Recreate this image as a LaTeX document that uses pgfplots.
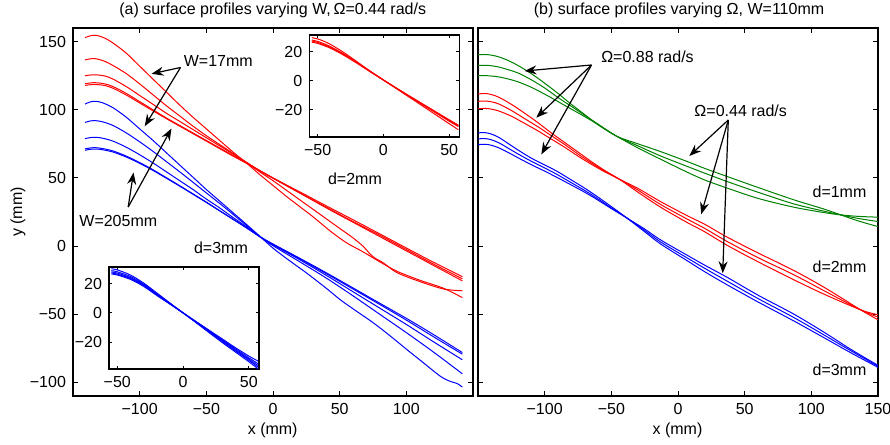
\documentclass[border=0pt]{standalone}
\usepackage{fontspec}
\setmainfont{Liberation Sans}
\usepackage{pgfplots}
\pgfplotsset{compat=1.18}
\usetikzlibrary{arrows.meta}
\definecolor{mgreen}{rgb}{0,0.5,0}
\newcommand{\fs}{\fontsize{8}{9.6}\selectfont}
\pgfplotsset{
  base/.style={scale only axis, axis line style={line width=0.9pt}, tick align=inside,
    tick style={black,line width=0.45pt}, tick label style={font=\fs},
    every axis plot/.append style={line width=0.5pt, no markers, smooth, tension=0.5}},
  mainax/.style={base, anchor=south west, width=200pt, height=184pt, xmin=-150, xmax=150, ymin=-110, ymax=160,
    major tick length=2.5pt, ytick={-100,-50,0,50,100,150}},
  insetax/.style={base, anchor=south west, width=75pt, height=51pt, xmin=-56.3, xmax=57.7, ymin=-38.5, ymax=31.5,
    major tick length=1.6pt, xtick={-50,0,50}, xticklabels={−50,0,50}, ytick={-20,0,20}, yticklabels={−20,0,20},
    axis background/.style={fill=white}, axis line style={line width=0.8pt}},
}
\begin{document}
\begin{tikzpicture}
\useasboundingbox (0,0) rectangle (445pt,222.5pt);
% ---------------- left main axis ----------------
\begin{axis}[mainax, at={(36.5pt,24.5pt)}, xtick={-100,-50,0,50,100}, xticklabels={−100,−50,0,50,100},
  yticklabels={−100,−50,0,50,100,150}]
\addplot[red] coordinates {(-141,153) (-136,154.5) (-132,154.5) (-126,152.5) (-120,149) (-110,141.5) (-100,132) (-90,122.5) (-80,113) (-70,103.5) (-60,94.5) (-50,86) (-40,77.5) (-30,69) (-20,61) (-10,52.5) (0,44.5) (10,36.5) (20,29) (30,21.5) (43,11) (55,2.5) (68,-4.5) (80,-11.5) (93,-18.5) (110,-25) (128,-31) (142,-37.8)};
\addplot[red] coordinates {(-141,136.6) (-136,137.5) (-132,137.3) (-126,135.5) (-120,132.5) (-110,126.5) (-100,119) (-90,111) (-80,103) (-70,95.5) (-60,88) (-50,81) (-40,74.5) (-30,68) (-20,61.5) (-10,54.5) (0,48) (10,41) (20,34) (30,27) (40,20) (50,13) (60,6) (68,-0.5) (72,-5) (76,-8.5) (83,-12.5) (93,-19.5) (110,-26) (128,-31.5) (142,-32.8)};
\addplot[red] coordinates {(-141,125) (-136,125.6) (-132,125.6) (-126,124.8) (-120,122.5) (-110,117) (-100,110.5) (-90,104) (-80,97.5) (-70,91.5) (-60,85.5) (-50,79.5) (-40,73.5) (-30,67.5) (-20,61.5) (-10,55.5) (0,50) (20,39) (40,28) (60,17.5) (80,7) (100,-3.5) (120,-14) (142,-25.5)};
\addplot[red] coordinates {(-141,119.1) (-136,119.8) (-132,119.8) (-126,119) (-120,117) (-110,112) (-100,106) (-90,100) (-80,94) (-70,88.5) (-60,83) (-50,77.5) (-40,72) (-30,66.5) (-20,61) (-10,55.2) (0,49.7) (20,39) (40,28.5) (60,18) (80,8) (100,-2.5) (120,-13) (142,-24)};
\addplot[red] coordinates {(-141,117.9) (-136,118.5) (-132,118.5) (-126,117.8) (-120,115.8) (-110,110.8) (-100,105) (-90,99.2) (-80,93.5) (-70,88) (-60,82.5) (-50,77) (-40,71.5) (-30,66) (-20,60.8) (-10,55.3) (0,50) (20,39.8) (40,29.5) (60,19.3) (80,9) (100,-1.4) (120,-11.7) (142,-22.4)};
\addplot[blue] coordinates {(-141,104.2) (-137,105.8) (-133,106.2) (-128,105.2) (-120,101.5) (-110,94.5) (-100,86) (-90,77.5) (-80,68.5) (-70,59.5) (-60,50.5) (-50,41.5) (-40,33) (-30,24.5) (-20,16) (-10,7.3) (0,-1.5) (10,-9) (25.5,-20) (40,-31) (50.5,-39.4) (60,-46) (75.5,-56.5) (88,-66) (100.5,-76) (112,-85) (125.5,-95.5) (133,-99.3) (138,-100.8) (142,-103.4)};
\addplot[blue] coordinates {(-141,90.7) (-137,91.8) (-133,92) (-128,91.2) (-120,88.5) (-110,83) (-100,76.5) (-90,69.5) (-80,62) (-70,54.5) (-60,46.8) (-50,39) (-40,31.3) (-30,23.3) (-20,15.2) (-10,7.2) (0,0.3) (20,-11.5) (40,-23.5) (60,-36.5) (80,-50) (100,-63.5) (120,-77.5) (142,-93.7)};
\addplot[blue] coordinates {(-141,78.8) (-137,79.6) (-133,79.8) (-128,79.2) (-120,77) (-110,72.5) (-100,67) (-90,61) (-80,54.5) (-70,48) (-60,41.5) (-50,34.5) (-40,28) (-30,21) (-20,14.2) (-10,7) (0,1) (20,-10) (40,-21.5) (60,-33.5) (80,-45.5) (100,-57.5) (120,-70) (142,-83.4)};
\addplot[blue] coordinates {(-141,71.3) (-137,72) (-133,72.2) (-128,71.6) (-120,69.8) (-110,66) (-100,61.3) (-90,56) (-80,50.2) (-70,44.3) (-60,38.3) (-50,32.3) (-40,26) (-30,19.8) (-20,13.5) (-10,7) (0,1.3) (20,-9.3) (40,-20.3) (60,-31.5) (80,-42.8) (100,-54.3) (120,-66.3) (142,-79.3)};
\addplot[blue] coordinates {(-141,70.3) (-137,71) (-133,71.2) (-128,70.7) (-120,69) (-110,65.3) (-100,60.7) (-90,55.5) (-80,49.8) (-70,44) (-60,38) (-50,32) (-40,25.8) (-30,19.6) (-20,13.4) (-10,7) (0,1.5) (20,-8.9) (40,-19.6) (60,-30.7) (80,-41.9) (100,-53) (120,-64.7) (142,-78.1)};
\end{axis}
% ---------------- right main axis ----------------
\begin{axis}[mainax, at={(239pt,24.5pt)}, xtick={-100,-50,0,50,100,150}, xticklabels={−100,−50,0,50,100,150},
  yticklabels={}]
\addplot[mgreen] coordinates {(-150,140.4) (-143,140.5) (-135,139) (-127,136) (-120,132.5) (-110,126.5) (-100,119.5) (-90,112) (-80,104) (-70,96.5) (-60,89) (-46,80.6) (-30,72) (-13,63.7) (6.5,54.4) (20,48.5) (37,42.5) (60,35) (87,28.5) (110,24.5) (122,22.9) (135,21.8) (150,21.2)};
\addplot[mgreen] coordinates {(-150,132.6) (-143,132.6) (-135,131.5) (-127,129.3) (-120,127) (-110,122) (-100,116) (-90,109) (-80,102.5) (-70,96) (-60,89.5) (-46,80.6) (-30,73.5) (-13,66.1) (6.5,58.6) (20,53.5) (37,47.3) (60,39.5) (87,30.9) (110,25.5) (122,22.9) (135,20.3) (150,18)};
\addplot[mgreen] coordinates {(-150,125) (-143,125) (-135,124.2) (-127,122.5) (-120,120.5) (-110,116.5) (-100,111.5) (-90,106) (-80,100.5) (-70,95) (-60,89.2) (-46,80.6) (-30,75) (-13,69.3) (6.5,62.2) (20,57) (37,51) (60,43) (87,33.9) (110,27) (122,22.9) (135,18.5) (150,14.3)};
\addplot[red] coordinates {(-150,111.6) (-143,111.8) (-135,109.5) (-125,104) (-115,97.5) (-105,90.5) (-95,83) (-85,76) (-75,69) (-65,62) (-55,55.5) (-43.5,48.8) (-30,39.5) (-13,28.5) (6.5,17.5) (20,10.5) (37,0.5) (60,-11.5) (87,-24.8) (110,-35.5) (137,-46.8) (150,-50.4)};
\addplot[red] coordinates {(-150,106.2) (-143,106.3) (-135,104.5) (-125,99.5) (-115,93.5) (-105,87.5) (-95,81) (-85,74.5) (-75,67.5) (-65,61) (-55,55) (-43.5,48.8) (-30,41) (-13,30.5) (6.5,20) (20,13) (37,3.3) (60,-8.5) (87,-21.1) (110,-33) (137,-46.8) (150,-52.1)};
\addplot[red] coordinates {(-150,100.8) (-143,100.9) (-135,99.3) (-125,95.3) (-115,90) (-105,84.5) (-95,78.5) (-85,72.5) (-75,66) (-65,60) (-55,54.5) (-43.5,48.8) (-30,42.3) (-13,32.6) (6.5,22.5) (20,16) (37,6.5) (60,-5) (87,-18) (110,-30.5) (137,-46.8) (150,-54.1)};
\addplot[blue] coordinates {(-150,83) (-145,83.3) (-140,82.2) (-134,79.5) (-127,75) (-120,70.5) (-110,64.5) (-100,59.5) (-91,55) (-80,48.5) (-70,42.5) (-61,36.6) (-50,29) (-38.5,20.7) (-25,10.5) (-13,1.5) (6.5,-10.5) (20,-18.8) (37,-28.5) (60,-41) (87,-55) (110,-67.5) (130,-78.5) (150,-89)};
\addplot[blue] coordinates {(-150,78.6) (-145,78.9) (-140,78) (-134,75.6) (-127,71.6) (-120,67.6) (-110,62.2) (-100,57.3) (-91,52.7) (-80,46.5) (-70,40.8) (-61,35.3) (-50,28) (-38.5,20.7) (-25,11.5) (-13,3) (6.5,-8.5) (20,-16.3) (37,-25.8) (60,-38.5) (87,-52.5) (110,-65.5) (130,-77) (150,-88.2)};
\addplot[blue] coordinates {(-150,74.4) (-145,74.7) (-140,74) (-134,71.9) (-127,68.5) (-120,64.8) (-110,59.7) (-100,55) (-91,50.5) (-80,44.8) (-70,39.5) (-61,34.3) (-50,27.5) (-38.5,20.7) (-25,12.5) (-13,4.5) (6.5,-6.5) (20,-14) (37,-23) (60,-36) (87,-50) (110,-63.5) (130,-76) (150,-87.5)};
\end{axis}
% ---------------- top inset (d=2mm) ----------------
\begin{axis}[insetax, at={(154.65pt,154.1pt)}]
\addplot[red] coordinates {(-54.4,29.5) (-50,28.7) (-45,27) (-40,24.8) (-30,19.3) (-20,13) (-10,6.5) (0,0.5) (10,-5.5) (20,-11.5) (30,-17.5) (40,-23.5) (50,-29.5) (57,-33.7)};
\addplot[red] coordinates {(-54.4,27.9) (-50,27) (-45,25.3) (-40,23.3) (-30,18.3) (-20,12.5) (-10,6.5) (0,0.5) (10,-5.3) (20,-11) (30,-16.6) (40,-22.2) (50,-27.8) (57,-31.5)};
\addplot[red] coordinates {(-54.4,27.2) (-50,26.3) (-40,22.7) (-30,17.8) (-20,12.2) (-10,6.3) (0,0.5) (10,-5.2) (20,-10.8) (30,-16.3) (40,-21.8) (50,-27.3) (57,-30.9)};
\addplot[red] coordinates {(-54.4,26.4) (-50,25.6) (-40,22.2) (-30,17.4) (-20,11.9) (-10,6.1) (0,0.5) (10,-5.1) (20,-10.6) (30,-16) (40,-21.4) (50,-26.8) (57,-30.5)};
\end{axis}
% ---------------- bottom inset (d=3mm) ----------------
\begin{axis}[insetax, at={(54.5pt,38pt)}]
\addplot[blue] coordinates {(-54.5,30.3) (-50,29.5) (-40,26) (-30,20.5) (-20,13.7) (-10,6.8) (0,0) (10,-6.8) (20,-13.7) (30,-20.5) (40,-27) (50,-33.5) (57,-38.4)};
\addplot[blue] coordinates {(-54.5,29) (-50,28.2) (-40,25) (-30,19.8) (-20,13.2) (-10,6.6) (0,0) (10,-6.6) (20,-13.2) (30,-19.8) (40,-26.2) (50,-32.5) (57,-37.2)};
\addplot[blue] coordinates {(-54.5,28.1) (-50,27.3) (-40,24.2) (-30,19.2) (-20,12.8) (-10,6.4) (0,0) (10,-6.4) (20,-12.8) (30,-19.2) (40,-25.5) (50,-31.7) (57,-36.1)};
\addplot[blue] coordinates {(-54.5,27.4) (-50,26.6) (-40,23.6) (-30,18.7) (-20,12.4) (-10,6.2) (0,0) (10,-6.2) (20,-12.4) (30,-18.6) (40,-24.8) (50,-30.8) (57,-34.9)};
\addplot[blue] coordinates {(-54.5,26.7) (-50,26) (-40,23) (-30,18.2) (-20,12) (-10,6) (0,0) (10,-6) (20,-12) (30,-18) (40,-24) (50,-29.6) (57,-33.1)};
\end{axis}
% ---------------- annotations (pixel frame) ----------------
\begin{scope}[yshift=222.5pt, x=0.5pt, y=-0.5pt]
\tikzset{arr/.style={black, line width=0.6pt, -{Stealth[length=6pt,width=4.5pt]}},
         lab/.style={font=\fs, inner sep=0pt}}
\node[lab] at (272.7,10.3) {(a) surface profiles varying W,\,Ω=0.44 rad/s};
\node[lab] at (679,10.3) {(b) surface profiles varying Ω, W=110mm};
\node[lab, rotate=90] at (18,212) {y (mm)};
\node[lab] at (272.7,430) {x (mm)};
\node[lab] at (677.5,430) {x (mm)};
\node[lab] at (218.3,60.5) {W=17mm};
\node[lab] at (118.3,221.3) {W=205mm};
\node[lab] at (221,248) {d=3mm};
\node[lab] at (355,178.3) {d=2mm};
\node[lab] at (647.5,56.7) {Ω=0.88 rad/s};
\node[lab] at (740.7,110.5) {Ω=0.44 rad/s};
\node[lab] at (839.5,192) {d=1mm};
\node[lab] at (839.5,266.7) {d=2mm};
\node[lab] at (839.5,370) {d=3mm};
\draw[arr] (180.5,67.5) -- (151.5,73.8);
\draw[arr] (180.5,67.5) -- (144.7,126.3);
\draw[arr] (128.2,207) -- (133.5,172.5);
\draw[arr] (128.2,207) -- (171.5,128.5);
\draw[arr] (591.5,65) -- (524.5,71);
\draw[arr] (591.5,65) -- (536.3,117.7);
\draw[arr] (591.5,65) -- (541.3,154.5);
\draw[arr] (728.3,120) -- (689.3,156);
\draw[arr] (728.3,120) -- (701.2,214.3);
\draw[arr] (728.3,120) -- (722.7,273.3);
\end{scope}
\end{tikzpicture}
\end{document}
